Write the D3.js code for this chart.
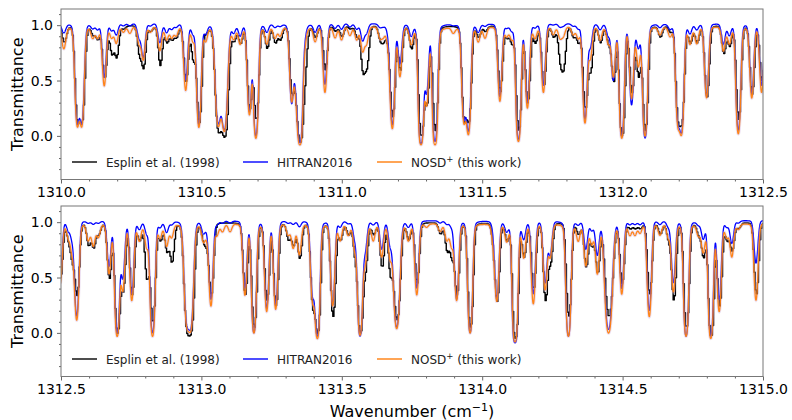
<!DOCTYPE html>
<html><head><meta charset="utf-8">
<script src="https://cdn.jsdelivr.net/npm/d3@7/dist/d3.min.js"></script>
<style>body{margin:0;background:#fff}svg{display:block}text{font-family:"DejaVu Sans",sans-serif}</style>
</head><body><svg id="c" width="792" height="420"></svg>
<script>
// ---------------- DATA ----------------
const seriesNames = ["Esplin et al. (1998)", "HITRAN2016", "NOSD\u207A (this work)"];
const panelRanges = [[1310.0, 1312.5], [1312.5, 1315.0]];
const xTicksP1 = [1310.0, 1310.5, 1311.0, 1311.5, 1312.0, 1312.5];
const xTicksP2 = [1312.5, 1313.0, 1313.5, 1314.0, 1314.5, 1315.0];
const yTicks = [0.0, 0.5, 1.0];

// Panel 1 absorption lines: centre (cm-1) and minimum transmittance of each series
const p1Center = [1310.010,1310.058,1310.074,1310.113,1310.130,1310.154,1310.180,1310.197,1310.222,1310.245,
  1310.278,1310.293,1310.318,1310.352,1310.376,1310.394,1310.410,1310.444,1310.470,1310.491,
  1310.515,1310.560,1310.582,1310.615,1310.638,1310.671,1310.694,1310.733,1310.762,1310.780,
  1310.8215,1310.838,1310.851,1310.866,1310.905,1310.940,1310.976,1310.999,1311.029,1311.053,
  1311.074,1311.088,1311.136,1311.148,1311.166,1311.180,1311.207,1311.247,1311.282,1311.302,
  1311.332,1311.397,1311.435,1311.451,1311.486,1311.510,1311.563,1311.587,1311.605,1311.629,
  1311.661,1311.688,1311.718,1311.753,1311.777,1311.789,1311.824,1311.842,1311.866,1311.885,
  1311.920,1311.949,1311.967,1311.997,1312.032,1312.056,1312.080,1312.133,1312.169,1312.197,
  1312.210,1312.240,1312.264,1312.299,1312.359,1312.380,1312.412,1312.460,1312.495];
const p1Nosd = [0.80,0.10,0.10,0.90,0.90,0.46,0.90,0.85,0.95,0.94,
  0.85,0.70,0.95,0.78,0.88,0.90,0.92,0.42,0.88,0.08,
  0.88,0.10,0.05,0.90,0.85,0.20,-0.02,0.85,0.90,0.92,
  0.33,0.45,-0.08,0.85,0.87,0.40,0.90,0.88,0.92,0.88,
  0.78,0.85,0.90,0.92,0.85,0.07,0.55,0.85,-0.08,0.30,
  -0.08,0.95,0.13,0.02,0.87,0.90,0.32,0.92,0.90,-0.05,
  0.26,0.90,0.40,0.93,0.90,0.92,0.93,0.90,0.12,0.72,
  0.88,0.85,0.55,-0.02,0.35,0.65,0.00,0.93,0.92,0.12,
  0.03,0.85,0.85,0.35,0.78,0.85,0.02,0.35,0.40];
const p1Hitran = [0.92,0.12,0.12,0.96,0.95,0.52,0.94,0.90,0.98,0.98,
  0.88,0.70,0.98,0.83,0.92,0.95,0.97,0.50,0.92,0.10,
  0.92,0.12,0.06,0.93,0.90,0.22,0.00,0.93,0.97,0.98,
  0.30,0.50,-0.06,0.90,0.93,0.46,0.96,0.95,0.97,0.95,
  0.85,0.92,0.97,0.98,0.93,0.10,0.65,0.90,-0.07,0.40,
  -0.05,0.99,0.16,0.05,0.93,0.98,0.35,0.97,0.95,-0.03,
  0.30,0.97,0.45,0.99,0.97,0.98,0.98,0.96,0.15,0.80,
  0.95,0.90,0.50,0.00,0.28,0.80,-0.02,0.97,0.96,0.15,
  0.05,0.92,0.95,0.35,0.82,0.90,0.05,0.38,0.45];
const p1Esplin = [0.85,0.15,0.15,0.92,0.88,0.52,0.75,0.72,0.97,1.00,
  0.75,0.63,0.95,0.64,0.85,0.88,0.90,0.50,0.70,0.12,
  0.95,0.05,0.00,0.88,0.85,0.25,0.15,0.80,0.85,0.88,
  0.40,0.45,-0.05,0.55,0.90,0.60,0.95,0.90,0.97,0.90,
  0.60,0.65,0.88,0.88,0.85,0.18,0.60,0.80,0.00,0.30,
  0.05,1.00,0.15,0.15,0.90,0.95,0.40,0.90,0.85,0.05,
  0.30,0.85,0.45,0.90,0.70,0.65,0.90,0.85,0.25,0.60,
  0.85,0.85,0.50,0.00,0.40,0.55,0.05,0.90,0.95,0.17,
  0.17,0.85,0.85,0.35,0.75,0.82,0.15,0.38,0.50];
const p1WideAt = [1310.010,1310.058,1310.074,1310.560,1310.582];
const p1WideHw = [0.008,0.0075,0.0075,0.0095,0.0095];

// Panel 2 absorption lines
const p2Center = [1312.497,1312.526,1312.540,1312.556,1312.597,1312.615,1312.633,1312.671,1312.700,1312.720,
  1312.752,1312.779,1312.805,1312.826,1312.853,1312.876,1312.894,1312.948,1312.962,1313.007,
  1313.019,1313.034,1313.055,1313.075,1313.102,1313.155,1313.187,1313.2325,1313.2645,1313.309,
  1313.327,1313.349,1313.396,1313.413,1313.4675,1313.494,1313.523,1313.547,1313.565,1313.583,
  1313.612,1313.642,1313.672,1313.6955,1313.737,1313.767,1313.802,1313.850,1313.874,1313.891,
  1313.909,1313.957,1314.040,1314.052,1314.087,1314.117,1314.148,1314.182,1314.224,1314.242,
  1314.307,1314.342,1314.369,1314.390,1314.410,1314.450,1314.497,1314.526,1314.544,1314.562,
  1314.595,1314.633,1314.663,1314.681,1314.726,1314.770,1314.787,1314.814,1314.844,1314.871,
  1314.889,1314.912,1314.975];
const p2Nosd = [0.45,0.88,0.75,0.12,0.85,0.80,0.88,0.55,-0.03,0.40,
  0.30,0.85,0.80,-0.03,0.88,0.80,0.88,0.10,0.05,0.85,
  0.92,0.25,0.90,0.93,0.93,0.35,0.00,0.20,0.22,0.90,
  0.78,0.72,0.30,-0.05,0.25,0.85,0.90,0.77,-0.02,0.65,
  0.85,0.70,0.70,0.04,0.85,0.35,0.97,0.93,0.85,0.80,
  0.30,0.00,0.85,0.30,0.85,-0.08,0.70,0.27,0.40,0.70,
  -0.03,0.85,0.62,0.82,0.55,0.00,0.36,0.90,0.90,0.92,
  0.15,0.90,0.88,0.38,-0.03,0.90,0.75,-0.05,0.20,0.88,
  0.70,0.95,0.30];
const p2Hitran = [0.50,0.92,0.85,0.15,0.98,0.97,0.98,0.60,0.00,0.50,
  0.35,0.93,0.90,0.00,0.95,0.90,0.97,0.12,0.07,0.90,
  0.95,0.30,0.97,0.98,0.98,0.40,0.00,0.22,0.25,0.98,
  0.97,0.95,0.35,-0.03,0.25,0.95,0.98,0.85,-0.03,0.75,
  0.97,0.75,0.80,0.05,0.95,0.40,1.00,0.98,0.97,0.95,
  0.30,0.00,0.95,0.30,0.92,-0.09,0.85,0.35,0.45,0.70,
  -0.03,0.97,0.75,0.92,0.70,0.03,0.40,0.97,0.97,0.97,
  0.20,0.97,0.95,0.45,-0.03,0.97,0.85,-0.03,0.30,0.95,
  0.80,0.98,0.62];
const p2Esplin = [0.50,0.85,0.68,0.35,0.80,0.78,0.90,0.50,0.00,0.40,
  0.35,0.85,0.50,0.10,0.85,0.75,0.65,0.05,0.05,0.85,
  0.85,0.35,1.00,1.00,1.00,0.35,0.05,0.30,0.25,0.85,
  0.80,0.68,0.25,0.00,0.15,0.85,0.90,0.70,0.00,0.60,
  0.90,0.60,0.55,0.12,0.85,0.45,1.00,0.90,0.75,0.70,
  0.35,0.05,0.85,0.30,0.85,-0.05,0.70,0.40,0.30,0.65,
  0.15,0.90,0.60,0.80,0.55,0.15,0.45,0.95,0.95,0.95,
  0.35,0.90,0.85,0.30,0.05,0.90,0.70,-0.03,0.25,0.85,
  0.75,0.95,0.35];
const p2WideAt = [1312.948,1312.962,1313.6955,1314.450];
const p2WideHw = [0.0085,0.0085,0.0095,0.011];

// ---------------- DRAWING ----------------
const svg = d3.select("#c");
const L = 61, R = 763, PH = 170.5;
const tops = [9, 206];
const colors = ["#000000", "#0000ff", "#ff7f0e"];
const yDomain = [-0.394, 1.146];

function spectrum(centers, tmins, wideAt, wideHw, grid, base, wScale) {
  const e = 0.1;
  const tau0 = tmins.map(t => -Math.log(Math.max((t + e) / (1 + e), 0.004)));
  const hw = centers.map(c => { const k = wideAt.indexOf(c); return (k >= 0 ? wideHw[k] : 0.0072) * wScale; });
  return grid.map(nu => {
    let tau = 0;
    for (let i = 0; i < centers.length; i++) {
      const x = (nu - centers[i]) / hw[i];
      if (Math.abs(x) < 40) tau += tau0[i] * (0.92 * Math.exp(-0.6931 * x * x) + 0.08 / (1 + x * x));
    }
    return base * (1 + e) * Math.exp(-tau) - e;
  });
}

const panelData = [
  {c: p1Center, s: [p1Esplin, p1Hitran, p1Nosd], wa: p1WideAt, wh: p1WideHw, ticks: xTicksP1},
  {c: p2Center, s: [p2Esplin, p2Hitran, p2Nosd], wa: p2WideAt, wh: p2WideHw, ticks: xTicksP2}
];

panelData.forEach((pd, pi) => {
  const top = tops[pi], bot = top + PH;
  const [lo, hi] = panelRanges[pi];
  const x = d3.scaleLinear().domain([lo, hi]).range([L, R]);
  const y = d3.scaleLinear().domain(yDomain).range([bot, top]);
  const g = svg.append("g");
  const cid = "clip" + pi;
  svg.append("clipPath").attr("id", cid).append("rect").attr("x", L).attr("y", top).attr("width", R - L).attr("height", PH);

  const fine = d3.range(lo - 0.002, hi + 0.0025, 0.0005);
  const coarse = d3.range(lo - 0.004, hi + 0.006, 0.004);
  const bases = [1.0, 1.015, 0.99];
  const wsc = [1.12, 1.0, 1.0];
  const plot = g.append("g").attr("clip-path", `url(#${cid})`);
  [0, 1, 2].forEach(si => {
    const grid = si === 0 ? coarse : fine;
    const vals = spectrum(pd.c, pd.s[si], pd.wa, pd.wh, grid, bases[si], wsc[si]);
    const pts = grid.map((v, i) => [v, vals[i]]);
    const line = d3.line().x(d => x(d[0])).y(d => y(d[1])).curve(si === 0 ? d3.curveStepAfter : d3.curveLinear);
    if (si === 2) {
      plot.append("path").datum(pts).attr("d", line).attr("fill", "none")
        .attr("stroke", "#c8a2d8").attr("stroke-width", 3.2).attr("stroke-opacity", 0.35);
    }
    plot.append("path").datum(pts).attr("d", line).attr("fill", "none")
      .attr("stroke", colors[si]).attr("stroke-width", si === 0 ? 1.4 : 1.3)
      .attr("stroke-opacity", si === 2 ? 0.95 : 1)
      .attr("stroke-linejoin", "round");
  });

  // axes
  const ax = g.append("g").attr("transform", `translate(0,${bot})`)
    .call(d3.axisBottom(x).tickValues(pd.ticks).tickFormat(d3.format(".1f")).tickSize(4).tickPadding(4).tickSizeOuter(0));
  ax.selectAll("text").attr("font-size", 14).attr("fill", "#000").attr("font-family", "DejaVu Sans");
  const minorX = d3.range(Math.round(lo * 10), Math.round(hi * 10) + 1).map(v => v / 10).filter(v => Math.abs(v * 2 - Math.round(v * 2)) > 1e-6);
  g.append("g").attr("transform", `translate(0,${bot})`)
    .call(d3.axisBottom(x).tickValues(minorX).tickFormat("").tickSize(2).tickSizeOuter(0));
  const ay = g.append("g").attr("transform", `translate(${L},0)`)
    .call(d3.axisLeft(y).tickValues(yTicks).tickFormat(d3.format(".1f")).tickSize(4).tickPadding(4).tickSizeOuter(0));
  ay.selectAll("text").attr("font-size", 14).attr("fill", "#000").attr("font-family", "DejaVu Sans");
  const minorY = d3.range(-3, 12).map(v => v / 10).filter(v => Math.abs(v * 2 - Math.round(v * 2)) > 1e-6);
  g.append("g").attr("transform", `translate(${L},0)`)
    .call(d3.axisLeft(y).tickValues(minorY).tickFormat("").tickSize(2).tickSizeOuter(0));
  g.selectAll(".domain").remove();
  g.selectAll(".tick line").attr("stroke", "#666");
  g.append("rect").attr("x", L).attr("y", top).attr("width", R - L).attr("height", PH)
    .attr("fill", "none").attr("stroke", "#777").attr("stroke-width", 1);

  // y label
  g.append("text").attr("transform", `translate(23,${top + PH / 2}) rotate(-90)`)
    .attr("text-anchor", "middle").attr("font-size", 16).attr("fill", "#000").text("Transmittance");

  // legend
  const ly = top + 153;
  const lx = [72, 243, 377];
  seriesNames.forEach((nm, i) => {
    g.append("line").attr("x1", lx[i]).attr("x2", lx[i] + 25).attr("y1", ly).attr("y2", ly)
      .attr("stroke", colors[i]).attr("stroke-width", 1.4);
    const t = g.append("text").attr("x", lx[i] + 34).attr("y", ly + 4.5).attr("font-size", 12).attr("fill", "#222");
    if (i === 2) {
      t.append("tspan").text("NOSD");
      t.append("tspan").attr("dy", -5).attr("font-size", 8.5).text("+");
      t.append("tspan").attr("dy", 5).text(" (this work)");
    } else t.text(nm);
  });
});

// x label
const xl = svg.append("text").attr("x", (L + R) / 2).attr("y", 417).attr("text-anchor", "middle")
  .attr("font-size", 16).attr("fill", "#000");
xl.append("tspan").text("Wavenumber (cm");
xl.append("tspan").attr("dy", -6).attr("font-size", 11).text("\u22121");
xl.append("tspan").attr("dy", 6).text(")");
</script></body></html>
